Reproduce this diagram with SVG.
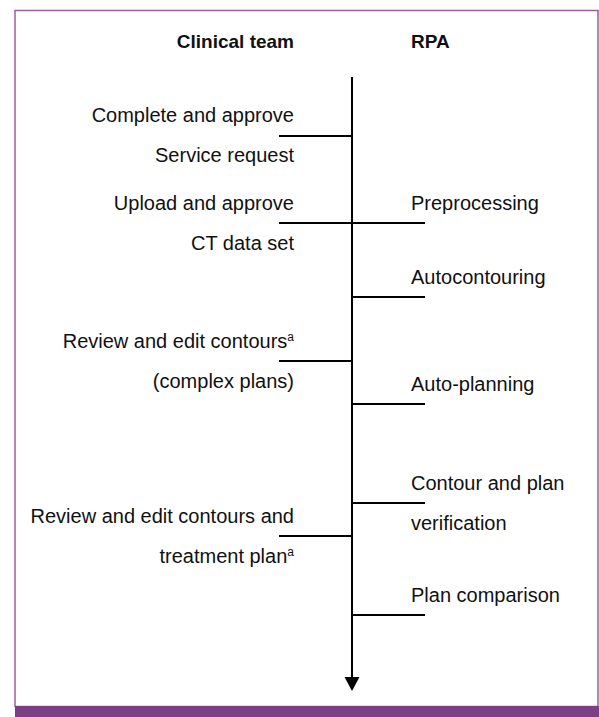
<svg xmlns="http://www.w3.org/2000/svg" width="599" height="717" viewBox="0 0 599 717">
<style>
.t{font-family:"Liberation Sans",Arial,sans-serif;font-size:20px;fill:#111}
.h{font-family:"Liberation Sans",Arial,sans-serif;font-size:19px;font-weight:bold;fill:#111}
.l{stroke:#000;stroke-width:2;fill:none}
.sup{font-size:12px}
</style>
<rect x="0" y="0" width="599" height="717" fill="#fff"/>
<rect x="15" y="10.5" width="583" height="696" fill="#fff" stroke="#9a5fa0" stroke-width="1.5"/>
<rect x="15" y="706" width="584" height="11" fill="#7d3f84"/>
<g id="headers">
<text class="h" x="294" y="48" text-anchor="end">Clinical team</text>
<text class="h" x="411" y="48">RPA</text>
</g>
<g id="connectors">
<line class="l" x1="352" y1="77" x2="352" y2="680"/>
<path d="M344.5,677 L359.5,677 L352,691 Z" fill="#000"/>
<line class="l" x1="279" y1="136" x2="352" y2="136"/>
<line class="l" x1="279" y1="223" x2="425" y2="223"/>
<line class="l" x1="352" y1="297" x2="425" y2="297"/>
<line class="l" x1="279" y1="361" x2="352" y2="361"/>
<line class="l" x1="352" y1="404" x2="425" y2="404"/>
<line class="l" x1="352" y1="503" x2="425" y2="503"/>
<line class="l" x1="279" y1="536" x2="352" y2="536"/>
<line class="l" x1="352" y1="615" x2="425" y2="615"/>
</g>
<g id="n-complete">
<text class="t" x="294" y="122" text-anchor="end">Complete and approve</text>
<text class="t" x="294" y="162" text-anchor="end">Service request</text>
</g>
<g id="n-upload">
<text class="t" x="294" y="210" text-anchor="end">Upload and approve</text>
<text class="t" x="294" y="250" text-anchor="end">CT data set</text>
</g>
<g id="n-preprocessing">
<text class="t" x="411" y="210">Preprocessing</text>
</g>
<g id="n-autocontouring">
<text class="t" x="411" y="284">Autocontouring</text>
</g>
<g id="n-review1">
<text class="t" x="294" y="348" text-anchor="end">Review and edit contours<tspan class="sup" dy="-7">a</tspan></text>
<text class="t" x="294" y="388" text-anchor="end">(complex plans)</text>
</g>
<g id="n-autoplanning">
<text class="t" x="411" y="391">Auto-planning</text>
</g>
<g id="n-verification">
<text class="t" x="411" y="490">Contour and plan</text>
<text class="t" x="411" y="530">verification</text>
</g>
<g id="n-review2">
<text class="t" x="294" y="523" text-anchor="end">Review and edit contours and</text>
<text class="t" x="294" y="563" text-anchor="end">treatment plan<tspan class="sup" dy="-7">a</tspan></text>
</g>
<g id="n-comparison">
<text class="t" x="411" y="602">Plan comparison</text>
</g>
</svg>
